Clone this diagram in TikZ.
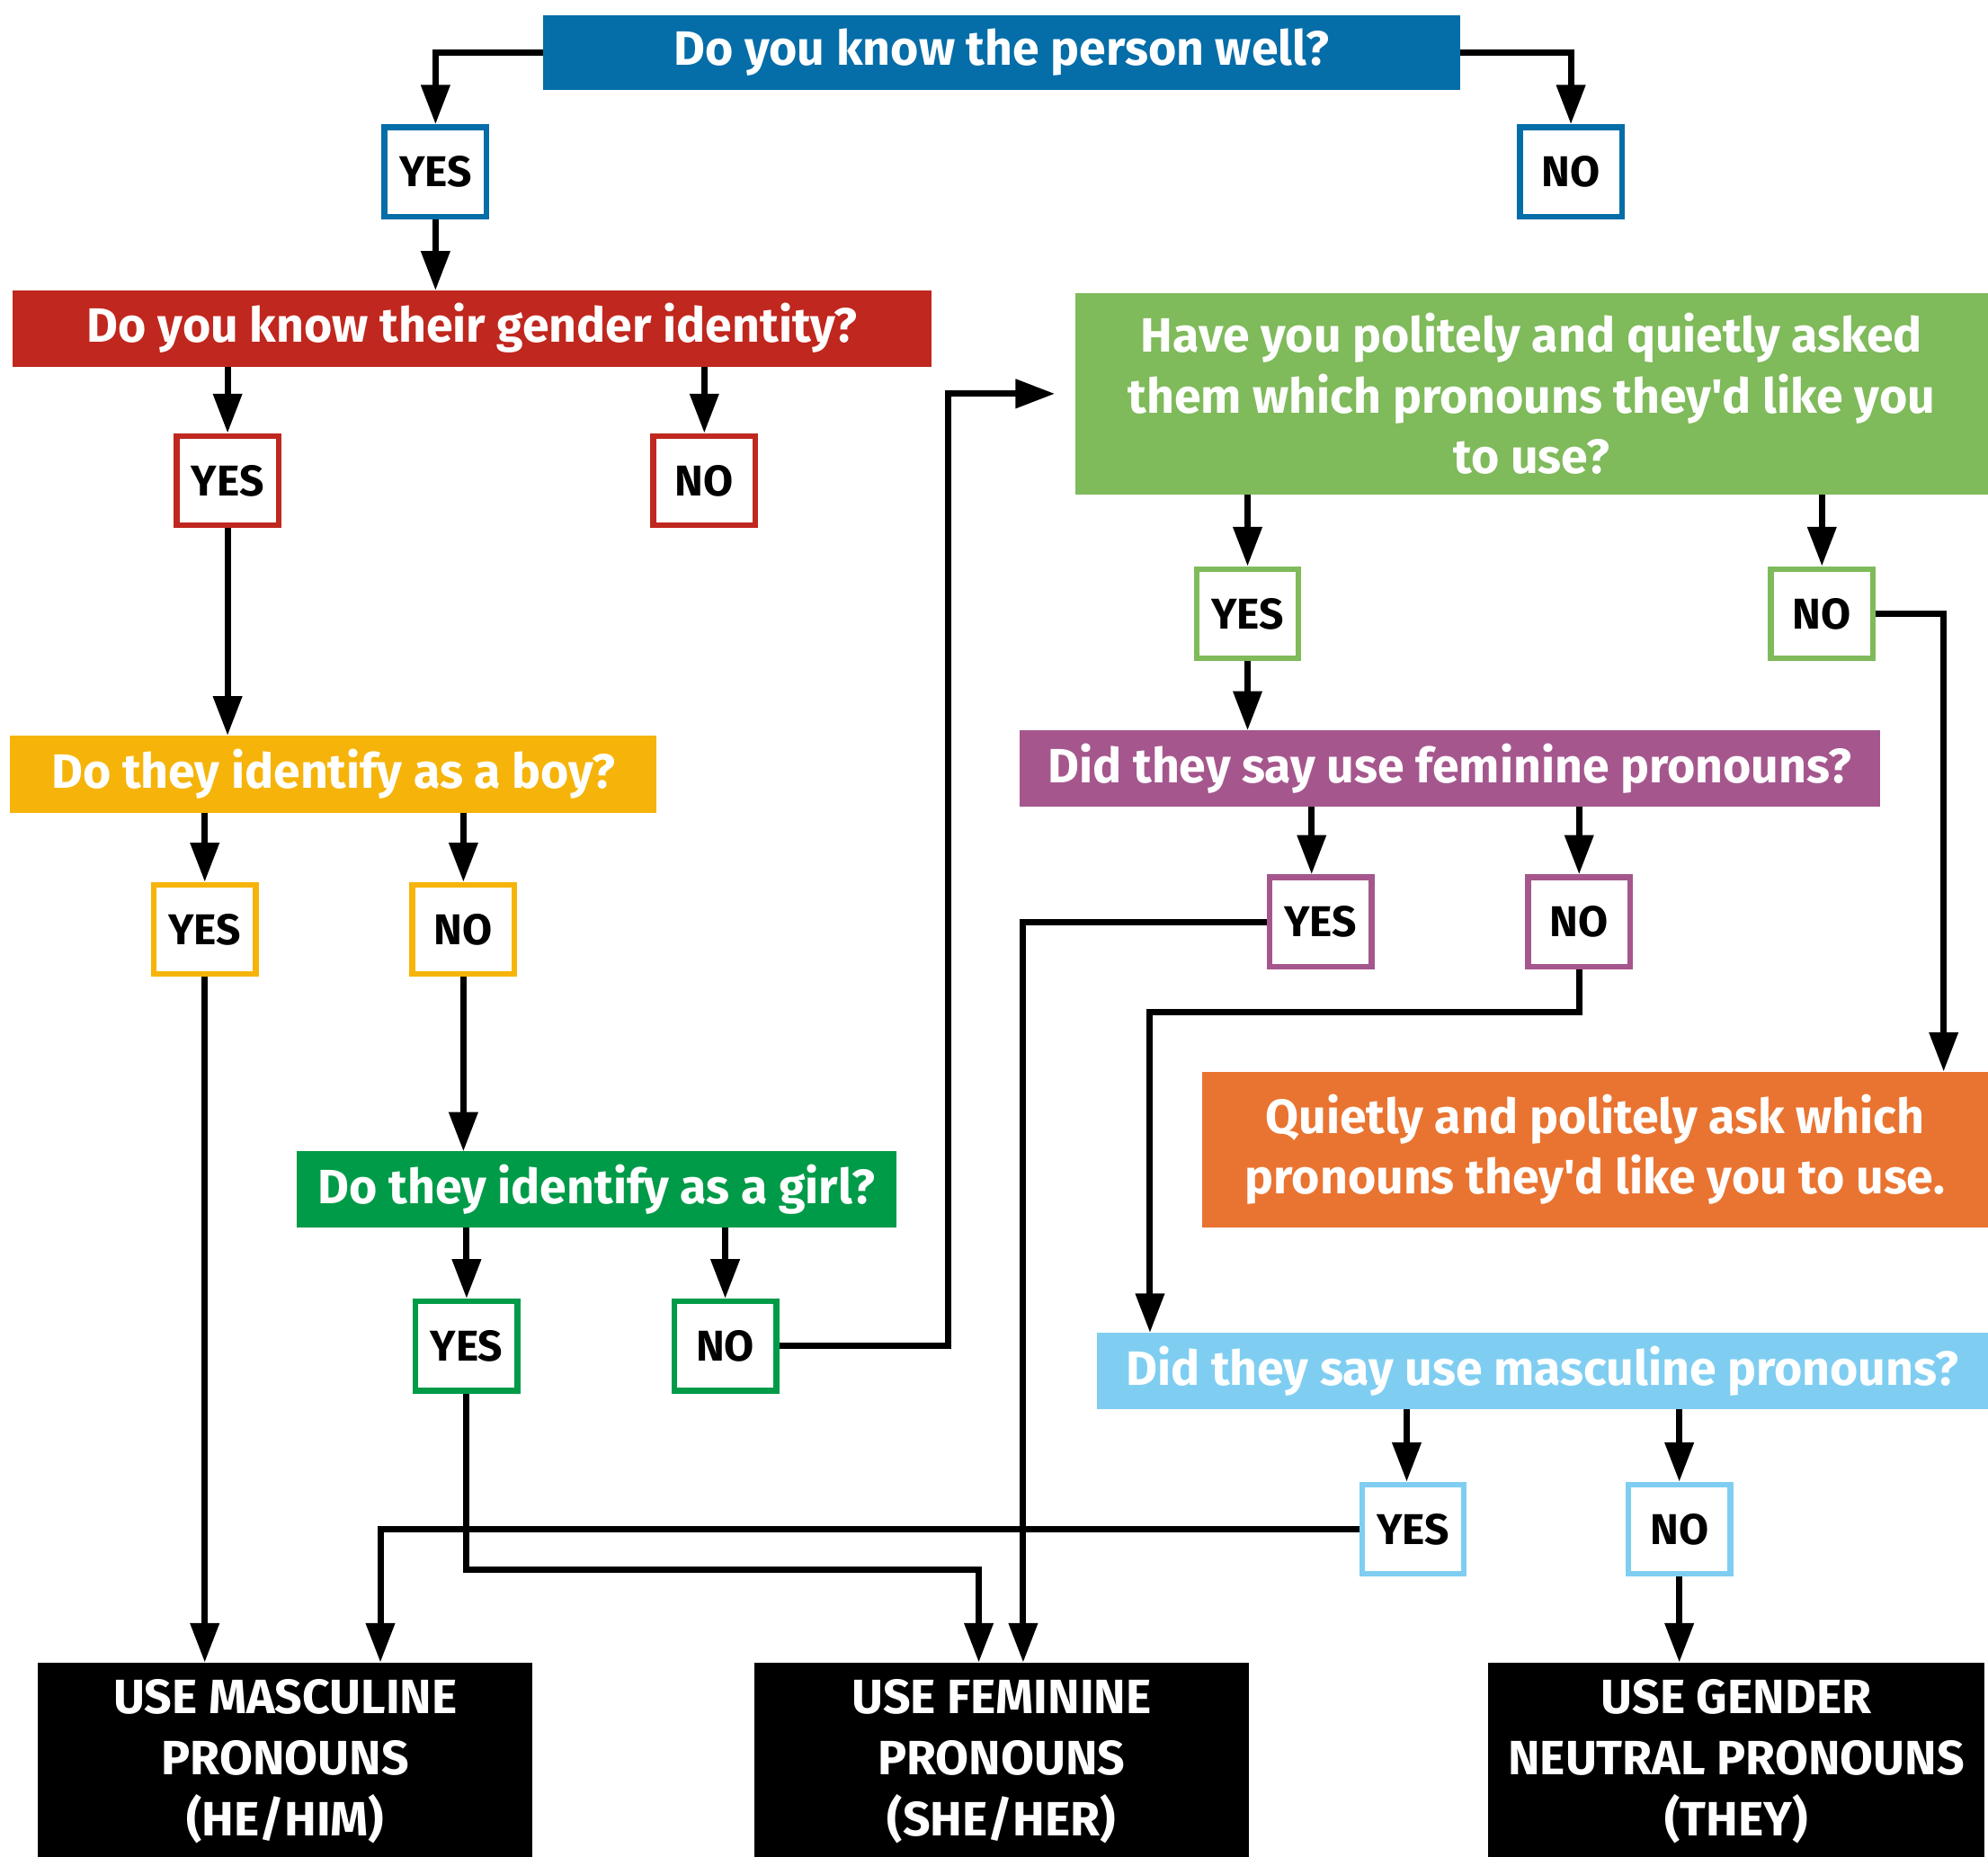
\documentclass[tikz,border=0pt]{standalone}
\usepackage{fontspec}
\setmainfont{Fira Sans}
\usetikzlibrary{arrows.meta}
\definecolor{cblue}{HTML}{056DA8}
\definecolor{cred}{HTML}{C0271E}
\definecolor{cyellow}{HTML}{F6B40A}
\definecolor{cgreen}{HTML}{009B48}
\definecolor{clgreen}{HTML}{7FBA5B}
\definecolor{cpurple}{HTML}{A5578D}
\definecolor{corange}{HTML}{E97431}
\definecolor{clblue}{HTML}{7FCEF2}
\begin{document}
\begin{tikzpicture}[x=1pt,y=-1pt,
  qbox/.style={fill=#1, text=white, font=\fontsize{38}{48}\selectfont\bfseries,
    inner sep=0pt, outer sep=0pt, align=center, minimum height=60},
  ans/.style={draw=#1, fill=white, line width=4.5pt, minimum width=80.5, minimum height=70.5,
    inner sep=0pt, outer sep=2.25pt, text=black, font=\fontsize{34}{40}\selectfont\bfseries},
  res/.style={fill=black, text=white, minimum width=390, minimum height=156,
    inner sep=0pt, outer sep=0pt, align=center, font=\fontsize{38}{48}\selectfont\bfseries},
  arr/.style={line width=5pt, -{Triangle[length=31pt, width=22pt]}}]
\clip (0,0) rectangle (1568,1464);
\fill[white] (0,0) rectangle (1568,1464);

% question boxes
\node[qbox=cblue, minimum width=724, minimum height=59] (q1) at (790,41.5) {Do you know the person well?};
\node[qbox=cred, minimum width=725] (q2) at (372.5,259) {Do you know their gender identity?};
\node[qbox=cyellow, minimum width=510, minimum height=61] (q3) at (263,610.5) {Do they identify as a boy?};
\node[qbox=cgreen, minimum width=473] (q4) at (470.5,938) {Do they identify as a girl?};
\node[qbox=clgreen, minimum width=720, minimum height=159] (q5) at (1208,310.5) {Have you politely and quietly asked\\them which pronouns they\textquotesingle d like you\\to use?};
\node[qbox=cpurple, minimum width=679] (q6) at (1143.5,606) {Did they say use feminine pronouns?};
\node[qbox=corange, minimum width=620, minimum height=123] (q7) at (1258,906.5) {Quietly and politely ask which\\pronouns they\textquotesingle d like you to use.};
\node[qbox=clblue, minimum width=703] (q8) at (1216.5,1081) {Did they say use masculine pronouns?};

% answer boxes
\node[ans=cblue] (y1) at (343.5,135.5) {YES};
\node[ans=cblue] (n1) at (1239,135.5) {NO};
\node[ans=cred] (y2) at (179.5,379) {YES};
\node[ans=cred] (n2) at (555.5,379) {NO};
\node[ans=cyellow] (y3) at (161.5,733) {YES};
\node[ans=cyellow] (n3) at (365.5,733) {NO};
\node[ans=cgreen] (y4) at (368,1061.5) {YES};
\node[ans=cgreen] (n4) at (572,1061.5) {NO};
\node[ans=clgreen] (y5) at (984,484) {YES};
\node[ans=clgreen] (n5) at (1437,484) {NO};
\node[ans=cpurple] (y6) at (1041.5,727) {YES};
\node[ans=cpurple] (n6) at (1245.5,727) {NO};
\node[ans=clblue] (y8) at (1114.5,1206) {YES};
\node[ans=clblue] (n8) at (1324.5,1206) {NO};

% results
\node[res] (r1) at (225,1389) {USE MASCULINE\\PRONOUNS\\(HE/HIM)};
\node[res] (r2) at (790,1389) {USE FEMININE\\PRONOUNS\\(SHE/HER)};
\node[res, minimum width=391] (r3) at (1369.5,1389) {USE GENDER\\NEUTRAL PRONOUNS\\(THEY)};

% connectors
\draw[arr] (q1.west) -| (y1.north);
\draw[arr] (q1.east) -| (n1.north);
\draw[arr] (y1.south) -- (y1.south |- q2.north);
\draw[arr] (q2.south -| y2.north) -- (y2.north);
\draw[arr] (q2.south -| n2.north) -- (n2.north);
\draw[arr] (y2.south) -- (y2.south |- q3.north);
\draw[arr] (q3.south -| y3.north) -- (y3.north);
\draw[arr] (q3.south -| n3.north) -- (n3.north);
\draw[arr] (y3.south) -- (y3.south |- r1.north);
\draw[arr] (n3.south) -- (n3.south |- q4.north);
\draw[arr] (q4.south -| y4.north) -- (y4.north);
\draw[arr] (q4.south -| n4.north) -- (n4.north);
\draw[arr, shorten >=16pt] (n4.east) -- ++(133,0) |- (q5.west);
\draw[arr] (y4.south) -- ++(0,139) -| ([xshift=-18pt]r2.north);
\draw[arr] (q5.south -| y5.north) -- (y5.north);
\draw[arr] (q5.south -| n5.north) -- (n5.north);
\draw[arr] (y5.south) -- (y5.south |- q6.north);
\draw[arr] (n5.east) -| ([xshift=275pt]q7.north);
\draw[arr] ([xshift=-7pt]q6.south -| y6.north) -- ([xshift=-7pt]y6.north);
\draw[arr] (q6.south -| n6.north) -- (n6.north);
\draw[arr] (y6.west) -| ([xshift=17pt]r2.north);
\draw[arr] (n6.south) -- ++(0,34) -| ([xshift=-309.5pt]q8.north);
\draw[arr] ([xshift=-5pt]q8.south -| y8.north) -- ([xshift=-5pt]y8.north);
\draw[arr] (q8.south -| n8.north) -- (n8.north);
\draw[arr] (y8.west) -| ([xshift=75pt]r1.north);
\draw[arr] (n8.south) -- (n8.south |- r3.north);
\end{tikzpicture}
\end{document}
